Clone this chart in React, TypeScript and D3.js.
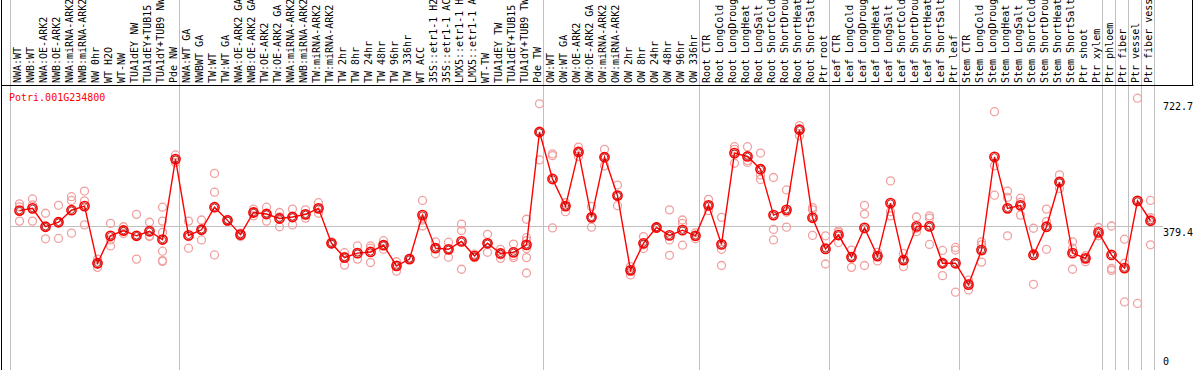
import { useMemo } from "react";
import * as d3 from "d3";

// column labels (already cut to 14 chars, as in the source)
const categories = [
  "NWA:WT", "NWB:WT", "NWA:OE-ARK2", "NWB:OE-ARK2", "NWA:miRNA-ARK2", "NWB:miRNA-ARK2",
  "NW 0hr", "WT H2O", "WT-NW", "TUA1dEY NW", "TUA1dEY+TUB15", "TUA1dY+TUB9 NW", "Pde NW",
  "NWA:WT GA", "NWBWT GA", "TW:WT", "TW:WT GA", "NWA:OE-ARK2 GA", "NWB:OE-ARK2 GA",
  "TW:OE-ARK2", "TW:OE-ARK2 GA", "NWA:miRNA-ARK2", "NWB:miRNA-ARK2", "TW:miRNA-ARK2",
  "TW:miRNA-ARK2", "TW 2hr", "TW 8hr", "TW 24hr", "TW 48hr", "TW 96hr", "TW 336hr",
  "WT ACC", "35S::etr1-1 H2", "35S::etr1-1 AC", "LMX5::etr1-1 H", "LMX5::etr1-1 A",
  "WT-TW", "TUA1dEY TW", "TUA1dEY+TUB15", "TUA1dY+TUB9 TW", "Pde TW",
  "OW:WT", "OW:WT GA", "OW:OE-ARK2", "OW:OE-ARK2 GA", "OW:miRNA-ARK2", "OW:miRNA-ARK2",
  "OW 2hr", "OW 8hr", "OW 24hr", "OW 48hr", "OW 96hr", "OW 336hr",
  "Root CTR", "Root LongCold", "Root LongDroug", "Root LongHeat", "Root LongSalt",
  "Root ShortCold", "Root ShortDrou", "Root ShortHeat", "Root ShortSalt", "Ptr root",
  "Leaf CTR", "Leaf LongCold", "Leaf LongDroug", "Leaf LongHeat", "Leaf LongSalt",
  "Leaf ShortCold", "Leaf ShortDrou", "Leaf ShortHeat", "Leaf ShortSalt", "Ptr leaf",
  "Stem CTR", "Stem LongCold", "Stem LongDroug", "Stem LongHeat", "Stem LongSalt",
  "Stem ShortCold", "Stem ShortDrou", "Stem ShortHeat", "Stem ShortSalt", "Ptr shoot",
  "Ptr xylem", "Ptr phloem", "Ptr fiber", "Ptr vessel", "Ptr fiber vess",
];

// mean expression per column
const means = [
  424, 430, 381, 393, 425, 436, 284, 357, 371, 357, 369, 347, 561,
  358, 373, 433, 398, 360, 419, 415, 403, 407, 414, 430, 337, 299, 311, 314, 332, 277, 295,
  412, 324, 321, 342, 303, 337, 310, 313, 333, 633,
  508, 436, 580, 406, 566, 464, 265, 337, 379, 358, 372, 357,
  438, 334, 577, 568, 534, 412, 426, 639, 405, 322,
  359, 300, 378, 303, 444, 292, 382, 382, 284, 284,
  227, 319, 567, 430, 438, 306, 381, 500, 311, 297, 366,
  306, 271, 450, 397,
];

// individual replicates per column
const replicates = [
  [442, 434, 396], [455, 439, 396], [417, 381, 349], [438, 393, 350], [461, 451, 364],
  [476, 450, 386], [295, 282, 273], [390, 346, 330], [381, 368, 363], [414, 357, 295],
  [393, 357, 355], [433, 396, 366, 316, 291, 289], [572, 559, 552],
  [396, 355, 324], [399, 373, 346], [523, 473, 306], [400, 398, 396], [364, 360, 355],
  [428, 419, 410], [433, 415, 396], [419, 407, 381], [428, 407, 386], [426, 414, 404],
  [445, 430, 417], [341, 337, 335], [312, 302, 279], [330, 309, 295], [330, 324, 286],
  [344, 332, 321], [288, 277, 263], [297, 295, 294], [451, 399, 383], [341, 324, 309],
  [340, 321, 300], [388, 371, 268], [308, 304, 299], [361, 337, 313], [321, 306, 297],
  [335, 304, 299], [401, 352, 344, 323, 299, 258], [708, 633, 559],
  [575, 570, 378], [445, 436, 421], [593, 580, 568], [435, 406, 380], [587, 566, 543],
  [492, 464, 437], [275, 266, 253], [355, 333, 323], [381, 379, 377], [426, 346, 305],
  [399, 390, 332], [365, 355, 349],
  [454, 438, 424], [406, 321, 278], [594, 587, 550], [594, 557, 552], [577, 519, 507],
  [512, 374, 346], [479, 420, 380], [650, 640, 623], [432, 426, 358], [357, 326, 282],
  [370, 366, 339], [319, 302, 273], [438, 415, 278], [313, 304, 290], [503, 421, 410],
  [310, 293, 275], [407, 377, 368], [410, 404, 334], [318, 284, 251], [326, 319, 207],
  [239, 229, 213], [341, 333, 287], [687, 543, 465], [476, 459, 357], [457, 446, 412],
  [377, 310, 228], [428, 395, 321], [519, 499, 483], [341, 324, 268], [304, 297, 288],
  [379, 358, 357], [383, 270, 265], [348, 284, 181], [723, 448, 177], [451, 405, 333],
];

// group separators: index of the column they sit before
const separators = [0, 13, 41, 53, 63, 73, 84, 85, 86, 87, 88];

const geneId = "Potri.001G234800";
const yTicks = [722.7, 379.4, 0];
const refLine = 379.4;

const W = 1194;
const H = 370;
const FONT = "'DejaVu Sans Mono', monospace";

export default function App() {
  const headerH = 85.5; // bottom of label strip
  const plotTop = 98.3;
  const plotBottom = 370;
  const colW = 13;
  const ptOffset = 8.5; // points sit a bit right of the cell's left edge

  const xScale = useMemo(
    () => d3.scaleLinear().domain([0, categories.length]).range([11, 11 + categories.length * colW]),
    []
  );
  const yScale = useMemo(() => d3.scaleLinear().domain([0, 722.7]).range([plotBottom, plotTop]), []);

  const px = (i: number) => xScale(i) + ptOffset;

  const pathD = useMemo(() => {
    const line = d3.line<number>()
      .x((_, i) => px(i))
      .y((d) => yScale(d));
    return line(means) ?? "";
  }, [xScale, yScale]);

  return (
    <svg width={W} height={H} style={{ position: "absolute", left: 0, top: 0, background: "#fff" }}>
      <rect x={0} y={0} width={W} height={H} fill="#fff" />

      {/* group separators */}
      {separators.map((s) => (
        <line key={`sep-${s}`} x1={Math.round(xScale(s)) - 0.5} x2={Math.round(xScale(s)) - 0.5} y1={0} y2={H} stroke="#c0c0c0" />
      ))}

      {/* reference line */}
      <line x1={10.5} x2={1163} y1={Math.round(yScale(refLine)) - 0.5} y2={Math.round(yScale(refLine)) - 0.5} stroke="#c0c0c0" />

      {/* frame of label strip */}
      <line x1={1.5} x2={1.5} y1={0} y2={H} stroke="#000" />
      <line x1={1} x2={1193.5} y1={headerH} y2={headerH} stroke="#000" />
      <line x1={1192.5} x2={1192.5} y1={0} y2={headerH} stroke="#000" />

      {/* column labels */}
      <g style={{ fontFamily: FONT, fontSize: 10 }}>
        {categories.map((c, i) => (
          <text key={`lab-${i}`} transform={`translate(${px(i) + 1.5},83) rotate(-90)`} fill="#000">
            {c}
          </text>
        ))}
      </g>

      {/* gene id */}
      <text x={9} y={100.5} fill="#ff0000" style={{ fontFamily: FONT, fontSize: 10 }}>{geneId}</text>

      {/* right value labels */}
      {yTicks.map((t) => {
        const cy = Math.max(plotTop + 9, Math.min(plotBottom - 8, yScale(t) + 5.5));
        return (
          <text key={`yt-${t}`} x={1163} y={cy} dominantBaseline="middle" fill="#000" style={{ fontFamily: FONT, fontSize: 10 }}>
            {t === 0 ? "0" : t.toFixed(1)}
          </text>
        );
      })}

      {/* replicates */}
      <g>
        {replicates.map((reps, i) =>
          reps.map((v, j) => (
            <circle key={`r-${i}-${j}`} cx={px(i)} cy={yScale(v)} r={4} fill="none" stroke="#f0a0a0" strokeWidth={1.3} />
          ))
        )}
      </g>

      {/* mean line */}
      <path d={pathD} fill="none" stroke="#ff0000" strokeWidth={1.4} />

      {/* mean markers */}
      <g>
        {means.map((v, i) => (
          <g key={`m-${i}`}>
            <circle cx={px(i)} cy={yScale(v)} r={4.6} fill="none" stroke="#ff0000" strokeWidth={1.6} />
            <circle cx={px(i)} cy={yScale(v)} r={3.2} fill="none" stroke="#900000" strokeWidth={0.8} />
          </g>
        ))}
      </g>
    </svg>
  );
}
